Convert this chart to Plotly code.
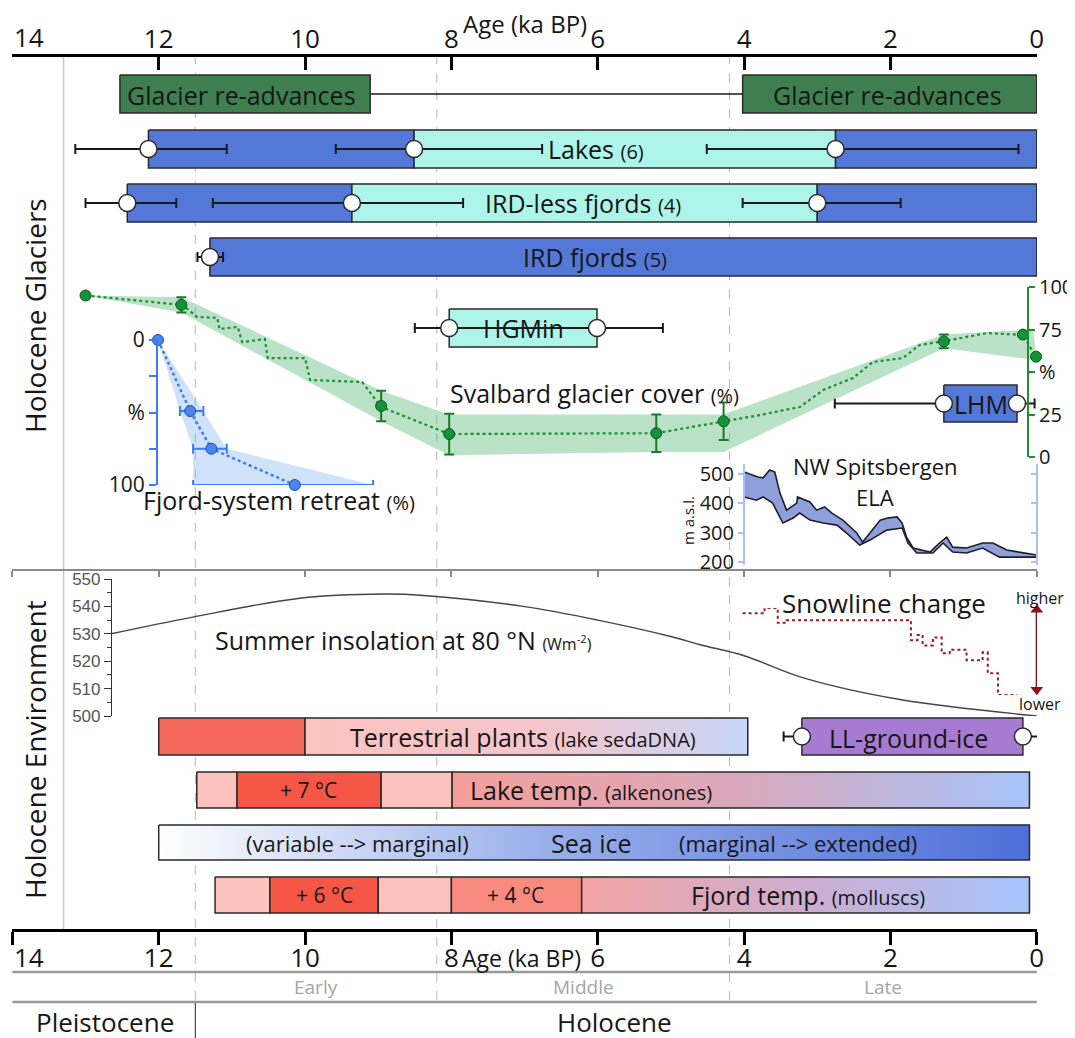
import plotly.graph_objects as go

FONT = "Open Sans"
W, H = 1075, 1038
OFF = 8            # page offset of the plot div (px); layout below is in screen pixels
INK = "#161616"
OUT = "#2a2a2a"

# ================= DATA (ages in ka BP) =================
age_ticks = [12, 10, 8, 6, 4, 2, 0]
age_edge_tick = 14
edge_tick_label = "14"
stage_bounds = [11.5, 8.2, 4.2]
late_glacial_line = 13.3

readv_old = [12.53, 4.02]
readv_young = [9.11, 0.00]

lakes_bounds = [12.14, 8.51, 2.75, 0.00]
lakes_pts = [12.14, 8.51, 2.75]
lakes_err_old = [13.14, 9.58, 4.51]
lakes_err_young = [11.07, 6.76, 0.25]

irdless_bounds = [12.43, 9.36, 3.00, 0.00]
irdless_pts = [12.43, 9.36, 3.00]
irdless_err_old = [13.00, 11.26, 4.02]
irdless_err_young = [11.76, 7.84, 1.86]

ird_bounds = [11.30, 0.00]
ird_pts = [11.30]
ird_err_old = [11.47]
ird_err_young = [11.12]

hgmin_bounds = [8.03, 6.01]
hgmin_err_old = [8.50, 8.03]
hgmin_err_young = [8.03, 5.11]

lhm_bounds = [1.27, 0.27]
lhm_err_old = [2.76, 0.27]
lhm_err_young = [1.27, 0.03]

# Svalbard glacier cover (%)
cover_age = [13.00, 11.69, 8.96, 8.03, 5.20, 4.28, 1.27, 0.19, 0.01]
cover_pct = [95.0, 89.5, 30.0, 13.5, 14.0, 21.0, 68.0, 72.0, 59.0]
cover_err = [0, 4.5, 9, 12, 11, 11, 4, 0, 0]
cover_path_age = [13.0, 11.67, 11.48, 11.20, 11.17, 10.92, 10.86, 10.55, 10.51, 10.0, 9.93,
                  9.22, 8.96, 8.03, 5.2, 4.28, 3.78, 3.24, 2.92, 2.51, 2.24, 1.83, 1.60,
                  1.26, 0.68, 0.19, 0.01]
cover_path_pct = [95, 89.4, 82.4, 81.8, 75.3, 76.5, 67.6, 69.4, 58.2, 58.2, 45.3,
                  44.1, 29.4, 13.5, 14, 21, 24.7, 29.4, 39.4, 46.5, 55.9, 58.2, 65.9,
                  68.2, 72.9, 71.8, 58.8]
cover_hi_age = [13.0, 11.69, 8.96, 8.03, 4.28, 1.27, 0.05]
cover_hi_pct = [95, 94, 39, 25, 25, 72, 75]
cover_lo_age = [13.0, 11.69, 8.96, 8.03, 5.2, 4.28, 1.27, 0.0]
cover_lo_pct = [95, 85, 21, 1, 3, 3, 64, 57]

# Fjord-system retreat (%)
fr_age = [12.01, 11.57, 11.28, 10.14]
fr_pct = [0, 49, 75, 100]
fr_err_old = [12.01, 11.71, 11.53, 11.53]
fr_err_young = [12.01, 11.39, 11.07, 9.07]

# NW Spitsbergen ELA (m a.s.l.)
ela_hi_age = [4.00, 3.81, 3.74, 3.65, 3.58, 3.51, 3.42, 3.28, 3.27, 3.10, 3.01, 2.90, 2.80,
              2.65, 2.46, 2.38, 2.28, 2.14, 2.04, 1.91, 1.84, 1.78, 1.69, 1.46, 1.33, 1.23,
              1.15, 0.96, 0.74, 0.60, 0.41, 0.00]
ela_hi = [507, 490, 487, 514, 507, 435, 377, 401, 422, 405, 377, 388, 367,
          343, 299, 268, 299, 343, 350, 354, 333, 285, 248, 234, 265, 285,
          251, 248, 265, 265, 241, 224]
ela_lo_age = [4.00, 3.83, 3.74, 3.61, 3.47, 3.33, 3.24, 3.10, 2.92, 2.73, 2.60, 2.42, 2.28,
              2.05, 1.84, 1.76, 1.64, 1.42, 1.28, 1.15, 0.96, 0.74, 0.51, 0.23, 0.00]
ela_lo = [422, 411, 422, 401, 333, 350, 367, 343, 333, 326, 299, 258, 275,
          309, 316, 265, 231, 231, 265, 234, 231, 248, 217, 217, 217]

# Summer insolation at 80N (W m-2)
ins_age = [12.65, 11.55, 10.07, 8.93, 8.38, 7.02, 6.0, 5.0, 4.6, 4.0, 3.2, 1.87, 0.0]
ins_val = [530, 536, 543, 544.5, 544, 540, 535, 529, 526, 522, 514, 506, 500]

# Snowline change (relative, 0 = lower, 10 = higher)
snow_age = [4.02, 3.72, 3.54, 3.42, 1.72, 1.63, 1.56, 1.42, 1.30, 1.19, 0.96, 0.74, 0.67, 0.53, 0.27]
snow_idx = [9.4, 10, 8.3, 8.6, 6.3, 6.9, 5.7, 6.6, 4.8, 5.2, 4.0, 4.9, 2.5, 0, 0]
snow_arrow_age = [0.0, 0.0]
snow_arrow_idx = [0.6, 9.8]

# Holocene environment boxes
plants_bounds = [12.00, 10.00, 3.95]
llice_bounds = [3.21, 0.19]
llice_err_old = [3.46, 0.19]
llice_err_young = [3.21, -0.04]
laketemp_bounds = [11.48, 10.93, 8.96, 7.99, 0.10]
seaice_bounds = [12.00, 0.10]
fjordtemp_bounds = [11.23, 10.48, 9.00, 8.00, 6.22, 0.10]

# ================= STYLE / LAYOUT =================
BLUE = "#5478d8"
CYAN = "#adf5e9"
GREEN = "#3f7f4f"
PURPLE = "#a77bd1"
RED = "#f65646"
RED2 = "#f56a5c"
PINK = "#fcc2bd"
SALMON = "#f98a80"
FS = 25      # main label size
SS = 20      # small parenthetical size

def fx(px):   # screen px -> paper x
    return (px - OFF) / W

def fy(py):   # screen px -> paper y
    return 1 - (py - OFF) / H

ROWS = {"readv": (75, 113), "lakes": (130, 168), "irdless": (184, 222), "ird": (238, 276),
        "hgmin": (309, 347), "lhm": (385, 422), "plants": (718, 755), "laketemp": (772, 808),
        "seaice": (825, 860), "fjordtemp": (877, 913)}

def mid(row):
    return sum(ROWS[row]) / 2.0

traces = []

def rect(x0, x1, row, fill, grad=None, xa="x2"):
    y0, y1 = ROWS[row]
    kw = dict(x=[x0, x1, x1, x0, x0], y=[y0, y0, y1, y1, y0], mode="lines", fill="toself",
              fillcolor=fill, line=dict(color=OUT, width=1.5), hoverinfo="skip",
              showlegend=False, xaxis=xa, yaxis="y")
    if grad is not None:
        kw["fillgradient"] = dict(type="horizontal", colorscale=grad,
                                  start=max(x0, x1), stop=min(x0, x1))
    traces.append(go.Scatter(**kw))

def circles(pts, old, young, row, xa="x2"):
    yc = mid(row)
    traces.append(go.Scatter(
        x=pts, y=[yc] * len(pts), mode="markers",
        marker=dict(size=17, color="white", line=dict(color=OUT, width=1.5)),
        error_x=dict(type="data", symmetric=False,
                     array=[o - p for o, p in zip(old, pts)],
                     arrayminus=[p - y for p, y in zip(pts, young)],
                     color="#1a1a1a", thickness=2, width=5),
        cliponaxis=False, hoverinfo="skip", showlegend=False, xaxis=xa, yaxis="y"))

# --- glacier re-advances
traces.append(go.Scatter(x=[readv_young[0], readv_old[1]], y=[mid("readv")] * 2, mode="lines",
                         line=dict(color="#1a1a1a", width=1.5), hoverinfo="skip",
                         showlegend=False, xaxis="x", yaxis="y"))
for o, y in zip(readv_old, readv_young):
    rect(o, y, "readv", GREEN)

for i, c in enumerate([BLUE, CYAN, BLUE]):
    rect(lakes_bounds[i], lakes_bounds[i + 1], "lakes", c)
circles(lakes_pts, lakes_err_old, lakes_err_young, "lakes")

for i, c in enumerate([BLUE, CYAN, BLUE]):
    rect(irdless_bounds[i], irdless_bounds[i + 1], "irdless", c)
circles(irdless_pts, irdless_err_old, irdless_err_young, "irdless")

rect(ird_bounds[0], ird_bounds[1], "ird", BLUE)
circles(ird_pts, ird_err_old, ird_err_young, "ird")

rect(hgmin_bounds[0], hgmin_bounds[1], "hgmin", CYAN)
circles(hgmin_bounds, hgmin_err_old, hgmin_err_young, "hgmin")

rect(lhm_bounds[0], lhm_bounds[1], "lhm", BLUE)
circles(lhm_bounds, lhm_err_old, lhm_err_young, "lhm")

# --- glacier cover (y2)
traces.append(go.Scatter(x=cover_hi_age + cover_lo_age[::-1], y=cover_hi_pct + cover_lo_pct[::-1],
                         mode="lines", fill="toself", fillcolor="rgba(88,185,118,0.42)",
                         line=dict(width=0), hoverinfo="skip", showlegend=False,
                         xaxis="x", yaxis="y2"))
traces.append(go.Scatter(x=cover_path_age, y=cover_path_pct, mode="lines",
                         line=dict(color="#1f8e3a", width=2.2, dash="dot"), hoverinfo="skip",
                         showlegend=False, xaxis="x", yaxis="y2"))
traces.append(go.Scatter(x=cover_age, y=cover_pct, mode="markers",
                         marker=dict(size=11, color="#13923a", line=dict(color="#0b5a20", width=1)),
                         error_y=dict(type="data", array=cover_err, color="#1a7a2c", thickness=2, width=5),
                         cliponaxis=False, hoverinfo="skip", showlegend=False, xaxis="x", yaxis="y2"))

# --- fjord-system retreat (y3)
traces.append(go.Scatter(x=fr_err_old + fr_err_young[::-1], y=fr_pct + fr_pct[::-1],
                         mode="lines", fill="toself", fillcolor="rgba(120,172,240,0.35)",
                         line=dict(width=0), hoverinfo="skip", showlegend=False,
                         xaxis="x", yaxis="y3"))
traces.append(go.Scatter(x=fr_age, y=fr_pct, mode="lines",
                         line=dict(color="#3b7df0", width=2.5, dash="dot"), hoverinfo="skip",
                         showlegend=False, xaxis="x", yaxis="y3"))
traces.append(go.Scatter(x=fr_age, y=fr_pct, mode="markers",
                         marker=dict(size=11, color="#4a86ee", line=dict(color="#1b4fb0", width=1)),
                         error_x=dict(type="data", symmetric=False,
                                      array=[o - p for o, p in zip(fr_err_old, fr_age)],
                                      arrayminus=[p - y for p, y in zip(fr_age, fr_err_young)],
                                      color="#3b7df0", thickness=2, width=5),
                         cliponaxis=False, hoverinfo="skip", showlegend=False, xaxis="x", yaxis="y3"))

# --- ELA (y4 / y5)
traces.append(go.Scatter(x=ela_hi_age + ela_lo_age[::-1], y=ela_hi + ela_lo[::-1], mode="lines",
                         fill="toself", fillcolor="#8e9fda", line=dict(width=0), hoverinfo="skip",
                         showlegend=False, xaxis="x", yaxis="y4"))
traces.append(go.Scatter(x=ela_lo_age, y=ela_lo, mode="lines", line=dict(color="#1e1e2a", width=1.6),
                         hoverinfo="skip", showlegend=False, xaxis="x", yaxis="y4"))
traces.append(go.Scatter(x=ela_hi_age, y=ela_hi, mode="lines", line=dict(color="#1e1e2a", width=1.6),
                         hoverinfo="skip", showlegend=False, xaxis="x", yaxis="y5"))

# --- insolation (y6)
traces.append(go.Scatter(x=ins_age, y=ins_val, mode="lines", line=dict(color="#444", width=1.4, shape="spline"),
                         hoverinfo="skip", showlegend=False, xaxis="x", yaxis="y6"))

# --- snowline (y7)
traces.append(go.Scatter(x=snow_age, y=snow_idx, mode="lines",
                         line=dict(color="#9b1c24", width=2, dash="dot", shape="hv"),
                         hoverinfo="skip", showlegend=False, xaxis="x", yaxis="y7"))
traces.append(go.Scatter(x=snow_arrow_age, y=snow_arrow_idx, mode="lines+markers",
                         line=dict(color="#8b1018", width=2.2),
                         marker=dict(symbol=["triangle-down", "triangle-up"], size=11, color="#8b1018"),
                         cliponaxis=False, hoverinfo="skip", showlegend=False, xaxis="x", yaxis="y7"))

# --- environment boxes (drawn on bottom age axis x3)
rect(plants_bounds[0], plants_bounds[1], "plants", RED2, xa="x3")
rect(plants_bounds[1], plants_bounds[2], "plants", PINK,
     grad=[[0, "#fcc3bf"], [0.55, "#f4c6cc"], [1, "#c6d7f8"]], xa="x3")
rect(llice_bounds[0], llice_bounds[1], "plants", PURPLE, xa="x3")
circles(llice_bounds, llice_err_old, llice_err_young, "plants", xa="x3")

for i, c in enumerate([PINK, RED, PINK]):
    rect(laketemp_bounds[i], laketemp_bounds[i + 1], "laketemp", c, xa="x3")
rect(laketemp_bounds[3], laketemp_bounds[4], "laketemp", "#e0a8b4",
     grad=[[0, "#f59f9a"], [0.5, "#d9a8bc"], [1, "#a6c3fa"]], xa="x3")

rect(seaice_bounds[0], seaice_bounds[1], "seaice", "#98aeea",
     grad=[[0, "#ffffff"], [0.45, "#98aeea"], [1, "#4e6fd8"]], xa="x3")

for i, c in enumerate([PINK, RED, PINK, SALMON]):
    rect(fjordtemp_bounds[i], fjordtemp_bounds[i + 1], "fjordtemp", c, xa="x3")
rect(fjordtemp_bounds[4], fjordtemp_bounds[5], "fjordtemp", "#d9aabc",
     grad=[[0, "#f2a3a3"], [0.5, "#cdaed0"], [1, "#a6c3fa"]], xa="x3")

fig = go.Figure(traces)

# ================= shapes =================
shapes = []
for a in stage_bounds:
    shapes.append(dict(type="line", xref="x", yref="y", x0=a, x1=a, y0=55, y1=1002,
                       line=dict(color="#b8b8b8", width=1, dash="dash"), layer="below"))
shapes.append(dict(type="line", xref="x", yref="y", x0=late_glacial_line, x1=late_glacial_line,
                   y0=55, y1=930, line=dict(color="#c8c8c8", width=1.5), layer="below"))
shapes.append(dict(type="line", xref="x", yref="y", x0=stage_bounds[0], x1=stage_bounds[0],
                   y0=1002, y1=1040, line=dict(color="#222", width=1)))
for yy in (972, 1002):
    shapes.append(dict(type="line", xref="x", yref="y", x0=14, x1=0, y0=yy, y1=yy,
                       line=dict(color="#9a9a9a", width=2.5)))

# ================= annotations =================
def txt(x, y, s, size=FS, color=INK, **kw):
    d = dict(x=x, y=y, xref="x", yref="y", text=s, showarrow=False,
             xanchor="center", yanchor="middle",
             font=dict(family=FONT, size=size, color=color))
    d.update(kw)
    return d

def ptxt(px, py, s, size=FS, color=INK, **kw):
    d = dict(x=fx(px), y=fy(py), xref="paper", yref="paper", text=s, showarrow=False,
             xanchor="center", yanchor="middle",
             font=dict(family=FONT, size=size, color=color))
    d.update(kw)
    return d

sm = "<span style='font-size:%dpx'>%%s</span>" % SS
ann = [
    txt(age_edge_tick, 37, edge_tick_label, size=26, xanchor="left"),
    txt(age_edge_tick, 957, edge_tick_label, size=26, xanchor="left"),
    txt(7.0, 23, "Age (ka BP)", size=24),
    txt(10.87, 95, "Glacier re-advances"),
    txt(2.04, 95, "Glacier re-advances"),
    txt(6.02, 149, "Lakes " + sm % "(6)"),
    txt(6.2, 203, "IRD-less fjords " + sm % "(4)"),
    txt(6.04, 257, "IRD fjords " + sm % "(5)"),
    txt(7.02, 328, "HGMin"),
    txt(0.76, 404, "LHM"),
    txt(6.05, 393, "Svalbard glacier cover " + sm % "(%)"),
    txt(10.35, 500, "Fjord-system retreat " + sm % "(%)"),
    txt(2.21, 466, "NW Spitsbergen", size=22),
    txt(2.21, 497, "ELA", size=22),
    ptxt(688, 521, "m a.s.l.", size=15, textangle=-90),
    txt(8.65, 640, "Summer insolation at 80 °N " + "<span style='font-size:16px'>(Wm<sup>-2</sup>)</span>", size=25),
    txt(2.09, 603, "Snowline change", size=26),
    ptxt(1040, 598, "higher", size=16),
    ptxt(1040, 704, "lower", size=16),
    txt(7.02, 737, "Terrestrial plants " + sm % "(lake sedaDNA)"),
    txt(1.75, 738, "LL-ground-ice"),
    txt(9.95, 790, "+ 7 °C", size=21),
    txt(6.09, 790, "Lake temp. " + sm % "(alkenones)"),
    txt(9.28, 843, "(variable --> marginal)", size=22),
    txt(6.09, 843, "Sea ice"),
    txt(3.27, 843, "(marginal --> extended)", size=22),
    txt(9.74, 895, "+ 6 °C", size=21),
    txt(7.12, 895, "+ 4 °C", size=21),
    txt(3.13, 895, "Fjord temp. " + sm % "(molluscs)"),
    txt(7.04, 958, "Age (ka BP)", size=23),
    txt(9.85, 987, "Early", size=19, color="#a5a5a5"),
    txt(6.2, 987, "Middle", size=19, color="#a5a5a5"),
    txt(2.1, 987, "Late", size=19, color="#a5a5a5"),
    txt(12.73, 1022, "Pleistocene", size=26),
    txt(5.77, 1022, "Holocene", size=26),
    ptxt(35, 316, "Holocene Glaciers", size=28, textangle=-90),
    ptxt(35, 750, "Holocene Environment", size=28, textangle=-90),
]

XR_RANGE = [14.005, -0.003]
tickfont = dict(family=FONT, size=26, color=INK)
noax = dict(showgrid=False, zeroline=False, fixedrange=True, automargin=False)

fig.update_layout(
    width=W, height=H, margin=dict(l=0, r=0, t=0, b=0, pad=0, autoexpand=False),
    paper_bgcolor="white", plot_bgcolor="rgba(0,0,0,0)", showlegend=False,
    font=dict(family=FONT, color=INK),
    xaxis=dict(domain=[fx(12), fx(1037)], range=XR_RANGE, anchor="free", position=fy(55), side="top",
               showline=True, linecolor="black", linewidth=3, ticks="inside", ticklen=13,
               tickwidth=2.5, tickcolor="black", tickvals=age_ticks,
               minor=dict(tickvals=[age_edge_tick], ticks="inside", ticklen=13, tickwidth=2.5, tickcolor="black"),
               ticklabeloverflow="allow", ticklabelstandoff=-4, tickfont=tickfont, **noax),
    xaxis2=dict(overlaying="x", range=XR_RANGE, anchor="free", position=fy(570), side="bottom",
                showline=True, linecolor="#8a8a8a", linewidth=1.5, ticks="outside", ticklen=6,
                tickwidth=1.5, tickcolor="#8a8a8a", tickvals=[age_edge_tick] + age_ticks,
                showticklabels=False, **noax),
    xaxis3=dict(overlaying="x", range=XR_RANGE, anchor="free", position=fy(930), side="bottom",
                showline=True, linecolor="black", linewidth=3, ticks="outside", ticklen=13,
                tickwidth=2.5, tickcolor="black", tickvals=age_ticks,
                minor=dict(tickvals=[age_edge_tick], ticks="outside", ticklen=13, tickwidth=2.5, tickcolor="black"),
                ticklabeloverflow="allow", ticklabelstandoff=-9, tickfont=tickfont, **noax),
    yaxis=dict(domain=[0, 1], range=[H + OFF, OFF], visible=False, **noax),
    yaxis2=dict(domain=[fy(457), fy(287)], range=[0, 100], anchor="free", position=fx(1028),
                side="right", showline=True, linecolor="#1f8f2f", linewidth=2, ticks="outside",
                ticklen=6, tickwidth=2, tickcolor="#1f8f2f", tickvals=[0, 25, 50, 75, 100],
                ticktext=["0", "25", "%", "75", "100"],
                tickfont=dict(family=FONT, size=20, color=INK), **noax),
    yaxis3=dict(domain=[fy(485), fy(340)], range=[100, 0], anchor="free", position=fx(157),
                side="left", showline=True, linecolor="#3b7df0", linewidth=2, ticks="outside",
                ticklen=7, tickwidth=2, tickcolor="#3b7df0", tickvals=[0, 50, 100],
                ticktext=["0", "%", "100"],
                minor=dict(tickvals=[25, 75], ticks="outside", ticklen=7, tickwidth=2, tickcolor="#3b7df0"),
                tickfont=dict(family=FONT, size=21, color=INK), **noax),
    yaxis4=dict(domain=[fy(565), fy(463.8)], range=[190, 535], anchor="free", position=fx(744),
                side="left", showline=True, linecolor="#a8c0f8", linewidth=2, ticks="outside",
                ticklen=5, tickwidth=1.5, tickcolor="#a8c0f8", tickvals=[200, 300, 400, 500],
                tickfont=dict(family=FONT, size=20, color=INK), **noax),
    yaxis5=dict(overlaying="y4", range=[190, 535], anchor="free", position=fx(1037), side="right",
                showline=True, linecolor="#a8c0f8", linewidth=2, ticks="inside", ticklen=5,
                tickwidth=1.5, tickcolor="#a8c0f8", tickvals=[200, 300, 400, 500],
                showticklabels=False, **noax),
    yaxis6=dict(domain=[fy(716), fy(579)], range=[500, 550], anchor="free", position=fx(111),
                side="left", showline=True, linecolor="#333", linewidth=1.2, ticks="outside",
                ticklen=7, tickwidth=1, tickcolor="#333", dtick=10,
                minor=dict(dtick=5, ticks="outside", ticklen=4, tickcolor="#333"),
                tickfont=dict(family="Liberation Sans", size=17, color="#555"), **noax),
    yaxis7=dict(domain=[fy(695), fy(608)], range=[0, 10], visible=False, **noax),
    shapes=shapes, annotations=ann,
)

fig.write_html("out.html")
